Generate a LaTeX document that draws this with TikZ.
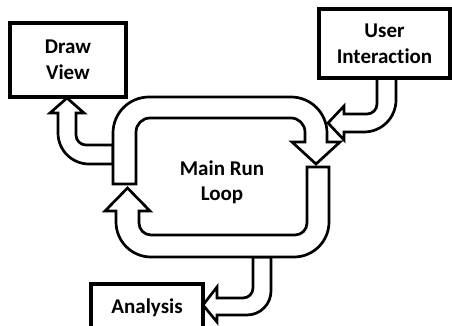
\documentclass[tikz,border=0pt]{standalone}
\usepackage{fontspec}
\setmainfont{Carlito}[Ligatures=NoCommon]
\begin{document}
\begin{tikzpicture}[x=1pt,y=-1pt,
  box/.style={draw, line width=3.3pt, fill=white, inner sep=0pt, align=center,
              font=\fontsize{21}{26}\selectfont\bfseries},
  label/.style={inner sep=0pt, align=center, font=\fontsize{21}{25}\selectfont\bfseries},
  blockarrow/.style={draw, fill=white, line width=2.7pt, line join=miter}]
\useasboundingbox (0,0) rectangle (452,326);
\clip (0,0) rectangle (452,326);

% branch to the drawing step (leaves the left side of the loop, turns up)
\draw[blockarrow] (113,145) -- (86,145) arc[start angle=90, end angle=180, radius=10]
  -- (76,113) -- (84,113) -- (67,98) -- (50,113) -- (58,113) -- (58,133)
  arc[start angle=180, end angle=90, radius=31] -- (113,164) -- cycle;

% branch to the analysis step (leaves the bottom of the loop, turns left)
\draw[blockarrow] (253,257) -- (253,288) arc[start angle=0, end angle=90, radius=10]
  -- (217,298) -- (217,287) -- (203,305) -- (217,322) -- (217,315) -- (247,315)
  arc[start angle=90, end angle=0, radius=24] -- (271,257) -- cycle;

% upper half of the run loop: up the left side, across the top, down to the right
\draw[blockarrow] (113,184) -- (113,133) arc[start angle=180, end angle=270, radius=36]
  -- (291,97) arc[start angle=270, end angle=360, radius=36]
  -- (327,142) -- (340,142) -- (316,164) -- (292,142) -- (305,142) -- (305,132)
  arc[start angle=0, end angle=-90, radius=14]
  -- (150,118) arc[start angle=270, end angle=180, radius=14]
  -- (136,184) -- cycle;

% lower half of the run loop: down the right side, across the bottom, up the left
\draw[blockarrow] (329,167) -- (329,222) arc[start angle=0, end angle=90, radius=35]
  -- (151,257) arc[start angle=90, end angle=180, radius=35]
  -- (116,211) -- (105,211) -- (127.5,188) -- (150,211) -- (139,211) -- (139,223)
  arc[start angle=180, end angle=90, radius=12]
  -- (295,235) arc[start angle=90, end angle=0, radius=12]
  -- (307,167) -- cycle;

% input from user interaction (comes down from the box, turns left into the loop)
\draw[blockarrow] (377,78) -- (377,104) arc[start angle=0, end angle=90, radius=10]
  -- (344,114) -- (344,106) -- (328,123) -- (344,140) -- (344,132) -- (364,132)
  arc[start angle=90, end angle=0, radius=32] -- (396,78) -- cycle;

% boxes
\node[box, minimum width=116pt, minimum height=74pt] (drawview) at (68,60) {Draw\\View};
\node[box, minimum width=131pt, minimum height=69pt] (user) at (384.5,43.5) {User\\Interaction};
\node[box, minimum width=112pt, minimum height=47pt] (analysis) at (147,307.5) {Analysis};

% loop caption
\node[label] (mainloop) at (222,182.5) {Main Run\\Loop};
\end{tikzpicture}
\end{document}
